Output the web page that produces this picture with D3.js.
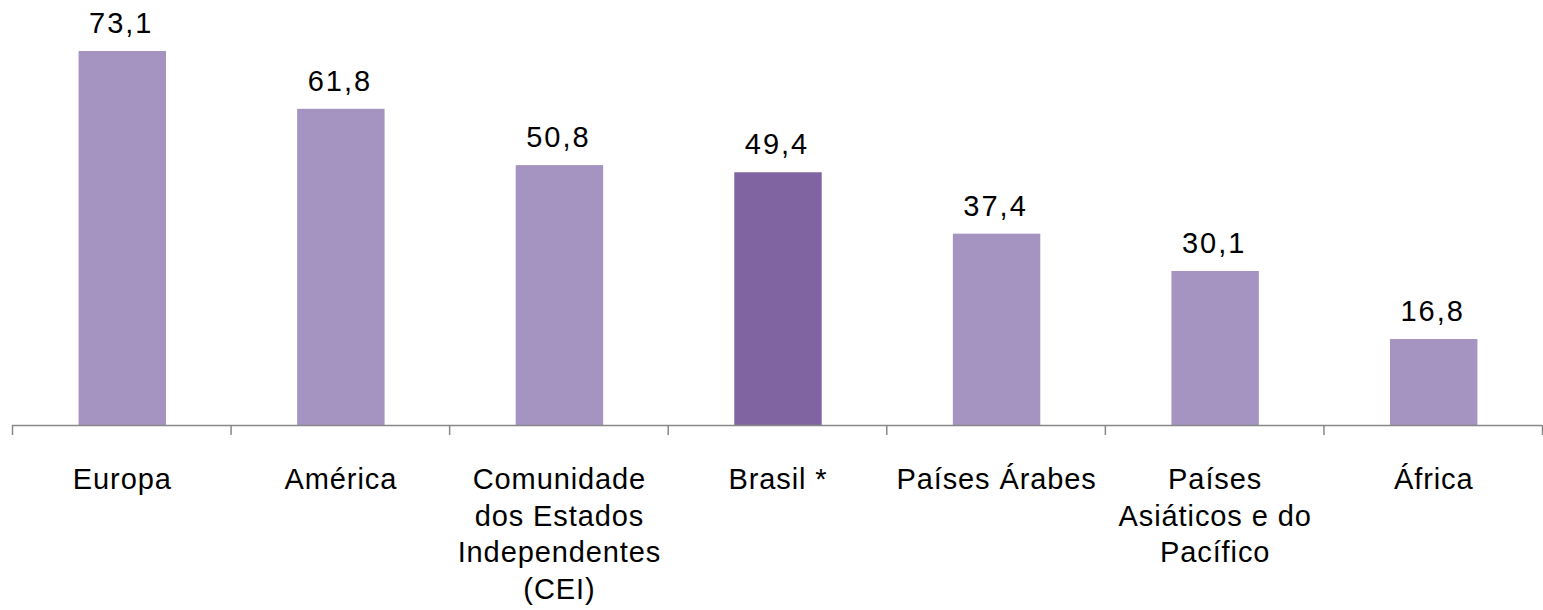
<!DOCTYPE html>
<html>
<head>
  <meta charset="utf-8">
  <script src="https://d3js.org/d3.v7.min.js"></script>
  <title>Bar chart</title>
  <style>
    body { margin: 0; background: #fff; }
    text { font-family: "Liberation Sans", Arial, sans-serif; fill: #000; }
  </style>
</head>
<body>
  <div id="chart"></div>
  <script>
    // data
    const categories = ["Europa", "América", "Comunidade\ndos Estados\nIndependentes\n(CEI)", "Brasil *",
      "Países Árabes", "Países\nAsiáticos e do\nPacífico", "África"];
    const values = [73.1, 61.8, 50.8, 49.4, 37.4, 30.1, 16.8];
    const highlight = ["Brasil *"];

    const W = 1543, H = 610;
    const left = 12, right = 1542, baseY = 425;

    const svg = d3.select("#chart").append("svg")
      .attr("width", W)
      .attr("height", H);

    const x = d3.scaleBand()
      .domain(categories)
      .range([left, right])
      .paddingInner(0.6)
      .paddingOuter(0.3);

    const y = d3.scaleLinear()
      .domain([0, 80])
      .range([baseY, baseY - 80 * 5.116]);

    // bars
    svg.selectAll("rect.bar")
      .data(categories)
      .join("rect")
        .attr("class", "bar")
        .attr("x", d => x(d) + 1)
        .attr("y", (d, i) => y(values[i]))
        .attr("width", x.bandwidth())
        .attr("height", (d, i) => y(0) - y(values[i]))
        .attr("fill", d => highlight.includes(d) ? "#8064A1" : "#A593C1");

    // value labels
    svg.selectAll("text.val")
      .data(categories)
      .join("text")
        .attr("class", "val")
        .attr("x", d => x(d) + x.bandwidth() / 2)
        .attr("y", (d, i) => y(values[i]) - 18)
        .attr("text-anchor", "middle")
        .style("font-size", "29px")
        .style("letter-spacing", "2px")
        .text((d, i) => values[i].toFixed(1).replace(".", ","));

    // axis line with ticks at band edges
    const axis = svg.append("g");
    axis.append("line")
      .attr("x1", left).attr("x2", right)
      .attr("y1", baseY + 0.5).attr("y2", baseY + 0.5)
      .attr("stroke", "#888").attr("stroke-width", 1.5);
    axis.selectAll("line.tick")
      .data(d3.range(categories.length + 1))
      .join("line")
        .attr("class", "tick")
        .attr("x1", i => left + i * x.step() + 0.5)
        .attr("x2", i => left + i * x.step() + 0.5)
        .attr("y1", baseY)
        .attr("y2", baseY + 10)
        .attr("stroke", "#888").attr("stroke-width", 1.5);

    // category labels
    const lab = svg.selectAll("text.cat")
      .data(categories)
      .join("text")
        .attr("class", "cat")
        .attr("text-anchor", "middle")
        .style("font-size", "29px")
        .style("letter-spacing", "0.9px")
        .attr("transform", d => `translate(${x(d) + x.bandwidth() / 2 + 1},${baseY + 64})`);
    lab.selectAll("tspan")
      .data(d => d.split("\n"))
      .join("tspan")
        .attr("x", 0)
        .attr("y", (d, i) => i * 36.7)
        .text(d => d);
  </script>
</body>
</html>
